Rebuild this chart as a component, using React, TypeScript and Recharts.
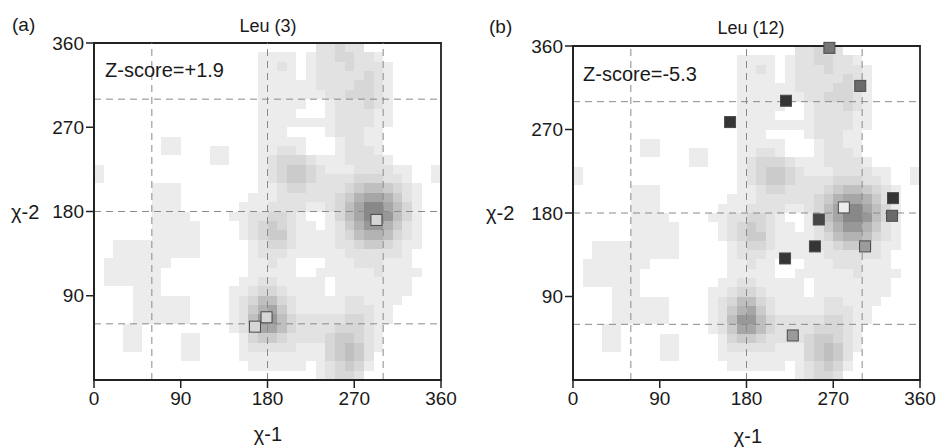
import React from 'react';
import { ScatterChart, Scatter, XAxis, YAxis, ReferenceArea, ReferenceLine } from 'recharts';

// background density, 10 degree cells, top row = chi2 350-360, left col = chi1 0-10
const densityRows = [
  '000000 000000 000000 000002 232200 000000',
  '000000 000000 000001 111012 233221 000000',
  '000000 000000 000001 121012 223222 100000',
  '000000 000000 000001 111012 222232 100000',
  '000000 000000 000001 111112 222332 100000',
  '000000 000000 000001 111111 223332 100000',
  '000000 000000 000001 111100 122232 100000',
  '000000 000000 000001 111000 122221 100000',
  '000000 000000 000001 111111 122221 100000',
  '000000 000000 000001 110000 122211 000000',
  '000000 011000 000001 111100 012211 000000',
  '000000 011000 110001 122100 012221 000000',
  '000000 000000 110001 233321 112222 100000',
  '100000 000000 000001 234432 111222 211001',
  '100000 000000 000001 234432 222333 221001',
  '000000 111000 000001 123322 223455 432100',
  '000000 111000 000011 122222 234677 642100',
  '000000 111000 000111 222211 235799 753100',
  '000000 111100 001122 332100 135799 853100',
  '000000 111110 000123 432110 124688 642100',
  '000000 111110 000123 442111 123566 532100',
  '001111 111110 000012 332111 122344 321100',
  '001111 111110 000012 221111 112222 221000',
  '011111 110000 000011 211000 111222 111000',
  '011111 100000 000011 111001 111112 111100',
  '011111 100000 000112 211111 011111 111000',
  '000011 100000 001123 321111 011111 111000',
  '000011 111100 001235 532111 112211 110000',
  '000011 111100 001246 742111 112221 100000',
  '000011 111100 001258 853222 223321 100000',
  '000110 000000 001247 753222 233321 000000',
  '000110 000110 000134 432222 344321 000000',
  '000110 000110 000122 222111 345421 000000',
  '000000 000110 000111 111111 345420 000000',
  '000000 000000 000011 111101 234310 000000',
  '000000 000000 000000 000001 233200 000000',
];
const densityShades = ['none', '#ececec', '#e2e2e2', '#d7d7d7', '#cbcbcb', '#bfbfbf', '#b3b3b3', '#a6a6a6', '#989898', '#888888'];

const xTicks = [0, 90, 180, 270, 360];
const yTicks = [90, 180, 270, 360];
const rotamerLines = [60, 180, 300];

// Leu (3)
const chi1A = [293, 179, 167];
const chi2A = [171, 67, 57];
const fillA = ['#d6d6d6', '#d6d6d6', '#d6d6d6'];

// Leu (12)
const chi1B = [266, 298, 221, 163, 332, 281, 331, 255, 303, 251, 220, 228];
const chi2B = [358, 317, 301, 278, 196, 186, 177, 173, 144, 144, 131, 48];
const fillB = ['#777777', '#6a6a6a', '#353535', '#353535', '#353535', '#ececec', '#6a6a6a', '#454545', '#9c9c9c', '#353535', '#353535', '#9a9a9a'];

const cells: { x1: number; x2: number; y1: number; y2: number; fill: string }[] = [];
densityRows.forEach((row, i) => {
  const r = 35 - i;
  row.replace(/ /g, '').split('').forEach((ch, c) => {
    const lvl = Number(ch);
    if (lvl > 0) cells.push({ x1: c * 10, x2: c * 10 + 10, y1: r * 10, y2: r * 10 + 10, fill: densityShades[lvl] });
  });
});

const font = '"Liberation Sans", Arial, sans-serif';

const cellShape = (props: any) => (
  <rect x={props.x} y={props.y} width={props.width} height={props.height} fill={props.fill} shapeRendering="crispEdges" />
);

const squareShape = (props: any) => {
  const { cx, cy, payload } = props;
  return <rect x={cx - 5.5} y={cy - 5.5} width={11} height={11} fill={payload.fill} stroke="#4a4a4a" strokeWidth={1} />;
};

interface PanelProps {
  left: number;
  width: number;
  margin: { top: number; right: number; bottom: number; left: number };
  chi1: number[];
  chi2: number[];
  fills: string[];
}

const Panel: React.FC<PanelProps> = ({ left, width, margin, chi1, chi2, fills }) => {
  const data = chi1.map((x, i) => ({ x, y: chi2[i], fill: fills[i] }));
  return (
    <div style={{ position: 'absolute', left, top: 0 }}>
      <ScatterChart width={width} height={448} margin={margin}>
        <XAxis
          type="number"
          dataKey="x"
          domain={[0, 360]}
          ticks={xTicks}
          interval={0}
          height={30}
          tickSize={8}
          tickMargin={4}
          axisLine={{ stroke: '#222', strokeWidth: 1.8 }}
          tickLine={{ stroke: '#222', strokeWidth: 1.5 }}
          tick={{ fontSize: 19, fill: '#1a1a1a', fontFamily: font }}
        />
        <YAxis
          type="number"
          dataKey="y"
          domain={[0, 360]}
          ticks={yTicks}
          interval={0}
          width={60}
          tickSize={8}
          tickMargin={2}
          axisLine={{ stroke: '#222', strokeWidth: 1.8 }}
          tickLine={{ stroke: '#222', strokeWidth: 1.5 }}
          tick={{ fontSize: 19, fill: '#1a1a1a', fontFamily: font }}
        />
        {cells.map((c, i) => (
          <ReferenceArea key={i} x1={c.x1} x2={c.x2} y1={c.y1} y2={c.y2} fill={c.fill} fillOpacity={1} stroke="none" shape={cellShape} />
        ))}
        {rotamerLines.map((v) => (
          <ReferenceLine key={'x' + v} x={v} stroke="#8a8a8a" strokeDasharray="7 5" strokeWidth={1} />
        ))}
        {rotamerLines.map((v) => (
          <ReferenceLine key={'y' + v} y={v} stroke="#8a8a8a" strokeDasharray="7 5" strokeWidth={1} />
        ))}
        <ReferenceArea x1={0} x2={360} y1={0} y2={360} fill="none" fillOpacity={0} stroke="#222" strokeWidth={1.8} />
        <Scatter data={data} shape={squareShape} isAnimationActive={false} />
      </ScatterChart>
    </div>
  );
};

const labels = [
  { text: '(a)', x: 12, y: 31, size: 19, anchor: 'start' },
  { text: 'Leu (3)', x: 268, y: 32, size: 18, anchor: 'middle' },
  { text: 'Z-score=+1.9', x: 105, y: 77, size: 20, anchor: 'start' },
  { text: 'χ-2', x: 11, y: 219, size: 20, anchor: 'start' },
  { text: 'χ-1', x: 268, y: 441, size: 20, anchor: 'middle' },
  { text: '(b)', x: 489, y: 33, size: 19, anchor: 'start' },
  { text: 'Leu (12)', x: 751, y: 34, size: 18, anchor: 'middle' },
  { text: 'Z-score=-5.3', x: 583, y: 81, size: 20, anchor: 'start' },
  { text: 'χ-2', x: 486, y: 220, size: 20, anchor: 'start' },
  { text: 'χ-1', x: 748, y: 443, size: 20, anchor: 'middle' },
];

export default function App() {
  return (
    <div style={{ position: 'absolute', left: 0, top: 0, width: 937, height: 448, background: '#fff', overflow: 'hidden' }}>
      <Panel left={0} width={468} margin={{ top: 43, right: 27, bottom: 38, left: 34 }} chi1={chi1A} chi2={chi2A} fills={fillA} />
      <Panel left={470} width={467} margin={{ top: 46, right: 17, bottom: 38, left: 43 }} chi1={chi1B} chi2={chi2B} fills={fillB} />
      <svg width={937} height={448} style={{ position: 'absolute', left: 0, top: 0, pointerEvents: 'none' }}>
        {labels.map((l, i) => (
          <text key={i} x={l.x} y={l.y} fontSize={l.size} fontFamily={font} fill="#1a1a1a" textAnchor={l.anchor as any}>
            {l.text}
          </text>
        ))}
      </svg>
    </div>
  );
}
